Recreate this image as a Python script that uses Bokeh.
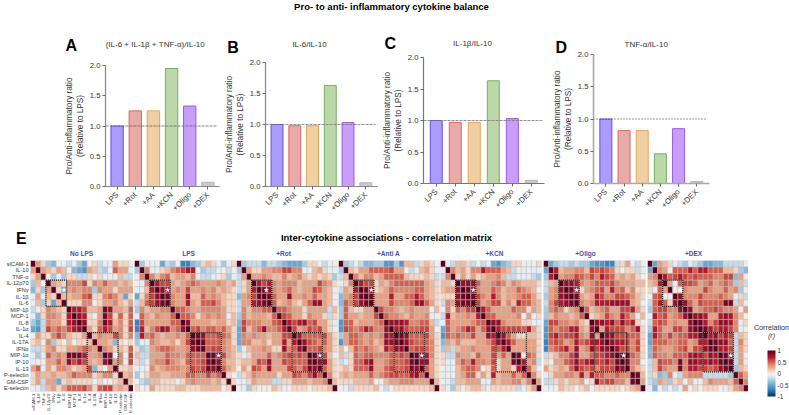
from math import pi
import numpy as np
from bokeh.embed import file_html
from bokeh.resources import INLINE
from bokeh.plotting import figure
from bokeh.layouts import column, row
from bokeh.models import (ColumnDataSource, FixedTicker, Range1d, LinearColorMapper, ColorBar)
from bokeh.core.properties import value

FONT = "Liberation Sans"

# ---------- data ----------
groups = ["LPS", "+Rot", "+AA", "+KCN", "+Oligo", "+DEX"]
ratio_a = [1.0, 1.25, 1.25, 1.95, 1.33, 0.07]
ratio_b = [1.0, 0.98, 0.98, 1.63, 1.03, 0.06]
ratio_c = [1.0, 0.97, 0.97, 1.63, 1.03, 0.05]
ratio_d = [1.0, 0.82, 0.82, 0.46, 0.85, 0.03]

cytokines = ["sICAM-1", "IL-10", "TNF-α", "IL-12p70", "IFNγ", "IL-1β", "IL-6", "MIP-1β", "MCP-1", "IL-8",
             "IL-1α", "IL-4", "IL-17A", "IFNα", "MIP-1α", "IP-10", "IL-13", "P-selectin", "GM-CSF", "E-selectin"]

# upper triangles, correlation x 10
no_lps = [
 [3,1,-3,-4,-1,-1,-2,-1,-3,-5,0,1,-2,-1,-1,3,1,1,0],
 [3,2,1,3,2,0,-4,-5,-6,3,2,-2,-3,0,5,3,3,-1],
 [0,-3,-1,-3,1,1,-2,-2,1,-1,1,-1,0,-1,2,-2,-2],
 [3,2,1,4,4,4,6,1,4,3,5,3,3,2,3,2],
 [1,-5,3,4,3,4,4,-3,4,3,3,1,3,3,3],
 [2,2,3,3,5,6,1,1,4,5,4,2,-5,1],
 [1,1,1,4,4,0,1,3,3,4,2,1,3],
 [7,7,6,2,2,3,9,8,3,3,2,5],
 [8,7,1,0,3,9,6,1,5,1,5],
 [8,1,1,4,9,7,2,4,1,5],
 [3,1,5,7,6,3,4,1,6],
 [2,4,3,3,6,4,1,4],
 [3,3,2,-4,1,0,1],
 [4,3,1,2,1,5],
 [8,0,4,0,6],
 [3,4,0,6],
 [1,1,2],
 [2,3],
 [2],
]
lps = [
 [-3,0,0,-1,-5,-2,-3,-1,-7,-7,-4,-3,1,2,1,-1,-3,0,1],
 [4,-1,-1,1,2,4,5,6,7,7,-1,-3,-2,-2,-1,0,-2,0],
 [4,2,4,5,2,3,3,2,4,-1,-2,-2,-1,0,1,-3,-1],
 [7,6,6,3,2,3,4,5,4,3,3,3,4,3,2,3],
 [8,8,3,4,3,6,3,3,4,3,4,2,3,2,1],
 [9,4,3,3,8,2,2,5,3,4,3,2,1,1],
 [4,3,3,7,3,2,5,5,6,4,2,1,1],
 [5,5,4,3,3,4,4,4,4,3,1,1],
 [5,5,4,1,3,4,3,4,3,-1,2],
 [8,3,3,3,3,2,3,3,1,2],
 [5,6,4,5,5,4,5,3,1],
 [9,8,5,5,6,5,4,1],
 [9,5,5,5,4,3,1],
 [5,6,6,4,3,2],
 [9,9,6,3,2],
 [8,4,2,2],
 [5,3,2],
 [1,0],
 [1],
]
rot = [
 [-3,-2,-2,-2,-4,-2,-2,-3,-4,-5,-5,-5,-3,1,1,0,-2,-1,0],
 [3,1,1,3,3,4,4,6,6,4,4,-1,-1,2,3,1,-1,-1],
 [3,3,4,3,2,2,4,2,3,4,2,1,2,1,2,1,-3],
 [7,6,7,4,3,4,4,4,2,3,3,3,6,4,3,1],
 [9,8,4,3,4,5,3,2,3,3,6,5,3,2,0],
 [9,5,3,3,8,3,3,4,3,5,3,3,2,0],
 [5,2,3,4,2,1,3,5,8,8,3,2,0],
 [5,5,4,3,3,1,3,3,3,3,-2,2],
 [6,5,3,3,1,4,3,3,1,-2,1],
 [7,6,7,8,5,6,3,3,1,-1],
 [6,3,4,6,5,6,3,1,0],
 [7,5,5,5,5,6,3,1],
 [8,6,5,4,5,3,1],
 [5,5,6,4,3,1],
 [9,9,6,2,0],
 [8,8,3,1],
 [5,3,1],
 [4,1],
 [2],
]
anti_a = [
 [-3,-2,-1,-2,-4,-4,-3,-3,-6,-6,-3,-6,2,2,-2,1,2,1,0],
 [2,1,3,3,5,5,5,5,6,3,3,0,-2,-1,2,3,1,-1],
 [4,2,4,4,2,3,5,5,5,5,2,1,1,1,2,1,-2],
 [7,6,6,1,3,2,4,5,5,5,5,5,5,3,2,1],
 [9,8,1,2,3,5,4,4,4,4,5,5,3,2,1],
 [9,3,3,3,7,3,3,5,5,7,5,3,2,1],
 [3,3,3,6,4,4,4,5,8,8,5,3,1],
 [6,4,4,3,2,3,4,3,3,3,0,2],
 [5,4,4,3,2,4,3,3,4,0,0],
 [8,8,8,7,4,4,5,5,2,-2],
 [7,8,6,5,5,6,6,3,0],
 [9,8,5,5,5,6,3,1],
 [8,6,5,5,5,4,1],
 [5,6,6,5,4,1],
 [9,9,7,4,1],
 [8,8,3,1],
 [5,3,1],
 [3,1],
 [2],
]
kcn = [
 [-1,-2,2,2,1,-2,0,-2,-1,-5,-6,-4,-3,1,1,0,-1,0,1],
 [4,2,3,1,4,4,7,5,5,5,3,2,-2,-1,-1,0,-1,-1],
 [1,3,1,3,1,2,3,3,4,2,-2,-2,-1,-1,-1,-2,-3],
 [8,8,8,5,3,3,4,5,4,2,4,3,2,2,2,1],
 [9,9,4,3,3,5,4,2,3,3,5,4,3,2,0],
 [9,6,4,3,7,4,2,3,3,4,5,5,3,1],
 [6,3,4,6,6,2,4,2,7,5,5,3,2],
 [7,5,3,3,3,3,5,4,4,1,3,2],
 [5,5,3,3,3,3,4,0,3,-1,1],
 [8,8,4,3,3,3,1,1,-1,-1],
 [7,6,6,6,6,5,7,3,1],
 [8,5,3,1,1,2,2,1],
 [7,5,3,3,3,3,1],
 [3,3,3,3,3,1],
 [9,1,5,4,1],
 [7,3,4,-2],
 [5,2,-1],
 [4,1],
 [3],
]
oligo = [
 [-5,-3,-2,-2,-3,-2,-3,-3,-5,-6,-6,-7,-7,-2,1,3,-1,-2,0],
 [7,2,3,3,4,4,2,6,5,6,5,4,1,-1,1,1,-2,-1],
 [3,4,4,6,5,4,6,4,7,6,5,2,3,2,3,1,0],
 [8,8,7,4,3,4,5,5,5,6,4,3,3,3,2,2],
 [9,8,1,3,4,5,6,3,7,4,5,2,4,1,1],
 [9,3,2,3,7,6,4,4,6,6,5,4,2,1],
 [4,3,4,7,7,7,8,8,8,8,3,2,0],
 [5,2,3,4,5,3,3,6,6,7,3,1],
 [1,2,3,6,4,3,7,5,3,-1,2],
 [8,8,7,8,5,8,6,7,1,0],
 [3,7,6,6,6,4,5,8,1],
 [8,8,6,6,6,5,5,1],
 [8,7,7,6,4,6,1],
 [8,6,6,4,6,1],
 [9,9,5,4,1],
 [8,4,4,0],
 [4,2,1],
 [9,2],
 [3],
]
dex = [
 [-5,3,2,1,-1,-2,-3,-1,-2,-3,-5,-5,-4,-4,-2,-2,-2,-2,-1],
 [4,3,-1,5,5,5,7,5,7,7,5,5,5,2,2,1,-3,-4],
 [7,5,6,7,6,5,6,5,5,5,4,4,6,6,-4,3,0],
 [3,-1,5,6,6,5,3,4,5,3,4,5,4,-3,2,-2],
 [0,1,4,3,3,3,6,4,3,3,5,3,4,-3,0],
 [8,4,4,4,6,4,4,4,5,4,3,-1,1,-2],
 [8,5,3,6,5,5,5,5,9,9,-2,2,-1],
 [8,3,4,5,5,6,5,4,4,3,0,3],
 [8,8,7,3,3,7,8,7,4,2,0],
 [9,7,4,6,8,8,7,4,-1,1],
 [9,7,6,7,7,6,4,0,0],
 [7,8,6,7,6,-2,2,1],
 [9,8,8,5,-2,4,1],
 [7,7,6,-2,3,1],
 [9,8,-2,3,0],
 [9,-2,3,-1],
 [-3,2,1],
 [5,3],
 [4],
]
panel_names = ["No LPS", "LPS", "+Rot", "+Anti A", "+KCN", "+Oligo", "+DEX"]
panel_values = [no_lps, lps, rot, anti_a, kcn, oligo, dex]

# ---------- palette ----------
stop_r = [-1, -0.7, -0.5, -0.3, -0.2, -0.1, 0, 0.1, 0.2, 0.3, 0.4, 0.5, 0.6, 0.7, 0.85, 1]
stop_c = ["#053061", "#3b84bc", "#6aa6d0", "#a6cbe3", "#c6dcec", "#e3eef6", "#f0eeee", "#f8d5c0", "#f2b99d",
          "#e99f80", "#df866b", "#d6604d", "#c8443c", "#b2182b", "#8a0a25", "#5a001c"]
def rgb(h):
    return [int(h[i:i + 2], 16) for i in (1, 3, 5)]
arr = np.array([rgb(s) for s in stop_c], float)
tt = np.linspace(-1, 1, 256)
palette = ["#%02x%02x%02x" % tuple(int(round(np.interp(t, stop_r, arr[:, k]))) for k in range(3)) for t in tt]
mapper = LinearColorMapper(palette=palette, low=-1, high=1)


def strip(w, h, x0, y0, items, bottom=0):
    """A figure whose frame is the page itself, for the free-standing texts."""
    p = figure(width=w, height=h, x_range=Range1d(x0, x0 + w), y_range=Range1d(y0 + h - bottom, y0),
               output_backend="svg", toolbar_location=None, x_axis_location=None, y_axis_location=None,
               min_border=0, min_border_bottom=bottom,
               outline_line_color=None, background_fill_color=None, border_fill_color=None)
    p.grid.visible = False
    for x, y, t, size, col, sty, al in items:
        p.text(x=[x], y=[y], text=[t], text_font=value(FONT), text_font_size=value(size), text_font_style=sty,
               text_color=col, text_align=al, text_baseline="middle")
    return p


# ---------- bars ----------
fills = ["#ab9cfb", "#e9aba7", "#f0cfa3", "#bcd8a9", "#c99ef8", "#c9c9c9"]
edges = ["#6a4df0", "#e06464", "#e9a458", "#73b163", "#9a58f0", "#b5b5b5"]

bar_specs = [
    (ratio_a, 0, 222, (105, 219, 65, 186), -0.64, 5.64, 0.68, "#888888", 1.2, "#666666", "3 1", 0.8),
    (ratio_b, 222, 158, (261, 377, 62, 186), -0.65, 5.66, 0.67, "#888888", 1.2, "#777777", "3 1", 0.8),
    (ratio_c, 380, 170, (420, 544, 57, 183), -0.67, 5.69, 0.63, "#777777", 1.2, "#777777", "3 1", 0.8),
    (ratio_d, 550, 239, (591, 709, 54, 183), -0.68, 5.7, 0.66, "#aaaaaa", 1.6, "#333333", "1 2", 1),
]
ROW_TOP, ROW_H = 49, 179
bar_figs = []
for vals, fx, fw, fr, x0, x1, bw, axcol, axw, refcol, refdash, refw in bar_specs:
    p = figure(width=fw, height=ROW_H, x_range=Range1d(x0, x1), y_range=Range1d(0, 2),
               output_backend="svg", toolbar_location=None,
               min_border_left=fr[0] - fx, min_border_right=fx + fw - fr[1],
               min_border_top=fr[2] - ROW_TOP, min_border_bottom=ROW_TOP + ROW_H - fr[3],
               outline_line_color=None, background_fill_color=None, border_fill_color=None)
    p.grid.visible = False
    src = ColumnDataSource(dict(x=list(range(len(groups))), top=vals, fill=fills, edge=edges))
    p.vbar(x="x", top="top", bottom=0, width=bw, source=src, fill_color="fill", line_color="edge", line_width=1)
    p.line(x=[x0, x1 - 0.1], y=[1, 1], line_color=refcol, line_width=refw, line_dash=refdash)

    xa, ya = p.xaxis[0], p.yaxis[0]
    xa.ticker = FixedTicker(ticks=list(range(len(groups))))
    xa.major_label_overrides = {i: g for i, g in enumerate(groups)}
    xa.major_label_orientation = pi / 4
    ya.ticker = FixedTicker(ticks=[0, 0.5, 1, 1.5, 2])
    ya.major_label_overrides = {0: "0.0", 0.5: "0.5", 1: "1.0", 1.5: "1.5", 2: "2.0"}
    ya.axis_label = "Pro/Anti-inflammatory ratio\n(Relative to LPS)"
    ya.axis_label_text_font = FONT
    ya.axis_label_text_font_size = "8.2px"
    ya.axis_label_text_font_style = "normal"
    ya.axis_label_text_color = "#333333"
    ya.axis_label_standoff = 2
    for a in (xa, ya):
        a.major_label_text_font = FONT
        a.major_label_text_font_size = "7.7px"
        a.major_label_text_color = "#333333"
        a.major_label_standoff = 2
        a.major_tick_in = 0
        a.major_tick_out = 3
        a.minor_tick_out = 0
        a.minor_tick_in = 0
        a.axis_line_color = axcol
        a.axis_line_width = axw
        a.major_tick_line_color = "#666666"
    xa.major_label_standoff = 4
    bar_figs.append(p)

BLK, TXT = "#000000", "#333333"
title_top = strip(789, 64, 0, 0, [
    (391, 5.5, "Pro- to anti- inflammatory cytokine balance", "9.5px", BLK, "bold", "center"),
    (65, 45, "A", "16px", BLK, "bold", "left"),
    (226.7, 46.7, "B", "16px", BLK, "bold", "left"),
    (384, 43.3, "C", "16px", BLK, "bold", "left"),
    (555, 47, "D", "16px", BLK, "bold", "left"),
    (154.7, 43.7, "(IL-6 + IL-1β + TNF-α)/IL-10", "8px", TXT, "normal", "center"),
    (309, 44, "IL-6/IL-10", "8px", TXT, "normal", "center"),
    (472, 43, "IL-1β/IL-10", "8px", TXT, "normal", "center"),
    (645.7, 44.3, "TNF-α/IL-10", "8px", TXT, "normal", "center"),
])

# ---------- heatmaps ----------
BLUE = "#3f51b5"
name_x = [81, 188, 283, 388, 494, 585, 693]
title_mid = strip(789, 32, 0, 228, [
    (15.5, 237.5, "E", "16px", BLK, "bold", "left"),
    (386, 237, "Inter-cytokine associations - correlation matrix", "9.5px", BLK, "bold", "center"),
] + [(x, 252.5, nm, "6.5px", BLUE, "bold", "center") for x, nm in zip(name_x, panel_names)])

heat_specs = [  # fig x, fig width, frame left, frame right, upper box, lower box, stars
    (0, 133, 30, 133, (3, 7, 3, 7), (11, 17, 11, 17), [(6.5, 4.5), (16.5, 14.5)]),
    (133, 103, 134, 236, (3, 7, 3, 7), (11, 17, 11, 17), [(6.5, 4.5), (16.5, 14.5)]),
    (236, 102, 236, 337, (3, 7, 3, 7), (11, 17, 11, 17), [(5.9, 4.5), (16.5, 14.5)]),
    (338, 102, 338, 439, (3, 7, 3, 7), (11, 17, 11, 17), [(6.5, 4.5), (16.5, 14.5)]),
    (440, 102, 440, 541, (3, 7, 3, 7), (11, 17, 11, 17), [(6.5, 4.5), (16.5, 14.5)]),
    (542, 104, 543, 645, (3, 7, 3, 7), (10, 16.3, 11, 17), [(6.5, 4.5), (15.7, 14.5)]),
    (646, 102, 647, 748, (3, 7, 3, 7), (11, 17, 11, 17), [(6.5, 4.5), (16.5, 14.5)]),
]
HT, HH, FB = 260, 155, 392
heat_figs = []
for idx, (name, ut, spec) in enumerate(zip(panel_names, panel_values, heat_specs)):
    fx, fw, fl, frr, ub, lb, stars = spec
    n = len(cytokines)
    m = np.eye(n)
    for i, r in enumerate(ut):
        assert len(r) == n - i - 1, (name, i, len(r))
        for k, v in enumerate(r):
            m[i, i + 1 + k] = m[i + 1 + k, i] = v / 10
    xs, ys, vs = [], [], []
    for i in range(n):
        for j in range(n):
            xs.append(j + 0.5); ys.append(i + 0.5); vs.append(float(m[i, j]))
    p = figure(width=fw, height=HH, x_range=Range1d(0, n), y_range=Range1d(n, 0),
               output_backend="svg", toolbar_location=None,
               x_axis_location="below" if idx == 0 else None, y_axis_location="left" if idx == 0 else None,
               min_border_left=fl - fx, min_border_right=fx + fw - frr,
               min_border_top=0, min_border_bottom=HT + HH - FB,
               outline_line_color=None, background_fill_color=None, border_fill_color=None)
    p.grid.visible = False
    p.rect(x="x", y="y", width=1, height=1, source=ColumnDataSource(dict(x=xs, y=ys, v=vs)),
           fill_color={"field": "v", "transform": mapper}, line_color="#bbbbbb", line_width=0.5)
    p.quad(left=[ub[0], lb[0]], right=[ub[1], lb[1]], top=[ub[2], lb[2]], bottom=[ub[3], lb[3]],
           fill_color=None, line_color="#111111", line_width=1.2, line_dash="1 1")
    p.scatter(x=[s[0] for s in stars], y=[s[1] for s in stars], marker="star", size=5,
              fill_color="#ffffff", line_color="#ffffff", line_width=0.3)
    if idx == 0:
        ticks = [i + 0.5 for i in range(n)]
        overrides = {t: c for t, c in zip(ticks, cytokines)}
        for a, size in ((p.xaxis[0], "4.4px"), (p.yaxis[0], "5.6px")):
            a.ticker = FixedTicker(ticks=ticks)
            a.major_label_overrides = overrides
            a.major_label_text_font = FONT
            a.major_label_text_font_size = size
            a.major_label_text_color = "#333333"
            a.major_label_standoff = 2
            a.major_tick_line_color = None
            a.minor_tick_line_color = None
            a.major_tick_out = 0
            a.major_tick_in = 0
            a.minor_tick_out = 0
            a.minor_tick_in = 0
            a.axis_line_color = None
        p.xaxis[0].major_label_orientation = pi / 2
    heat_figs.append(p)

# ---------- colour legend ----------
legend_fig = strip(41, 155, 748, 260, [
    (771, 328, "Correlation", "7.2px", TXT, "normal", "center"),
    (771, 336, "(r)", "7.2px", TXT, "italic", "center"),
], bottom=23)
cb = ColorBar(color_mapper=mapper, ticker=FixedTicker(ticks=[-1, -0.5, 0, 0.5, 1]), width=8, height=46,
              location=(19, -5), major_label_text_font=FONT,
              major_label_text_font_size="6.4px", major_label_text_color="#333333",
              major_tick_line_color=None, minor_tick_line_color=None, bar_line_color=None,
              padding=0, label_standoff=2, background_fill_color=None, border_line_color=None,
              major_label_overrides={-1: "-1", -0.5: "-0.5", 0: "0", 0.5: "0.5", 1: "1"})
legend_fig.add_layout(cb, "center")

# each bar figure sits in its own column, so that the row does not line their frames up
bars_row = row(*[column(f, spacing=0) for f in bar_figs], margin=(-15, 0, 0, 0), spacing=0)
heat_row = row(*heat_figs, legend_fig, spacing=0)
layout = column(title_top, bars_row, title_mid, heat_row, spacing=0)
open("out.html", "w").write(file_html(layout, INLINE))
